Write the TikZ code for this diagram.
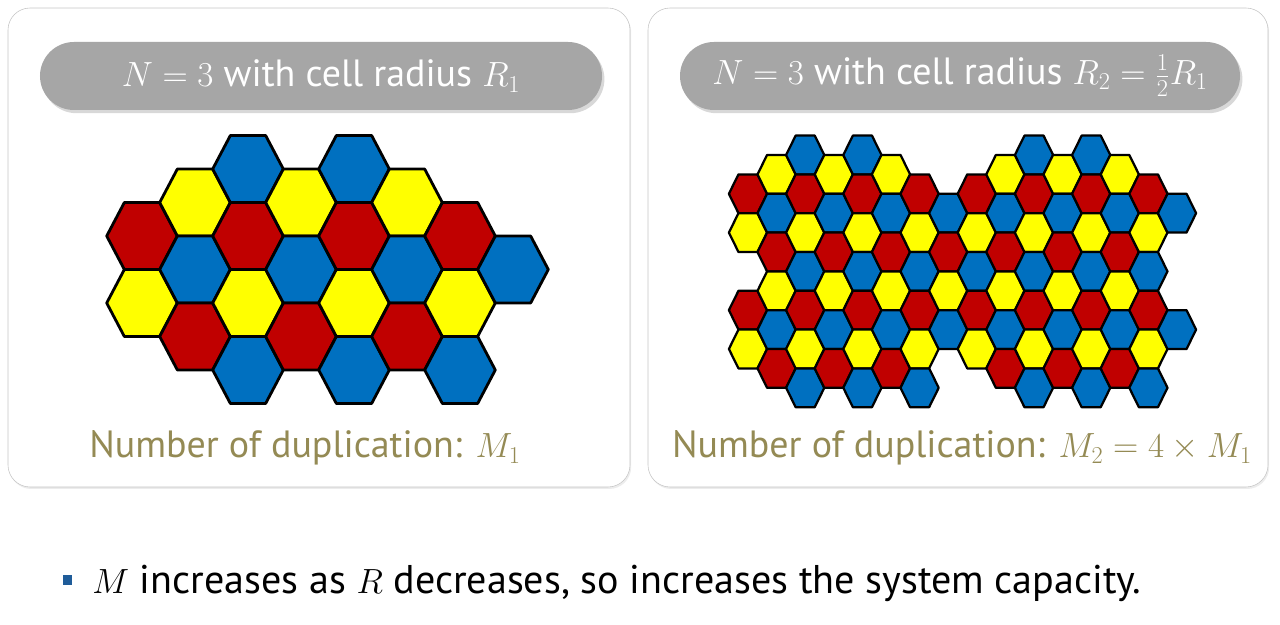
\documentclass[tikz,border=0pt]{standalone}
\usepackage{fontspec}
\setmainfont{PT Sans}
\usetikzlibrary{shadows}

\definecolor{cellblue}{HTML}{0070C0}
\definecolor{cellred}{HTML}{C00000}
\definecolor{cellyellow}{HTML}{FFFF00}
\colorlet{cellc0}{cellblue}
\colorlet{cellc1}{cellred}
\colorlet{cellc2}{cellyellow}
\definecolor{pillgray}{HTML}{A6A6A6}
\definecolor{olivetext}{HTML}{948A54}
\definecolor{bulletblue}{HTML}{1F5C99}

% one hexagonal cell: centre x, centre y, half width, half height, colour index
\newcommand{\hexcell}[5]{%
  \draw[cell, fill=cellc#5, shift={(#1,#2)}]
    (-#3,0) -- (-#3/2,-#4) -- (#3/2,-#4) -- (#3,0) -- (#3/2,#4) -- (-#3/2,#4) -- cycle;}

\begin{document}
\begin{tikzpicture}[
    x=0.25mm, y=-0.25mm,
    every node/.style={inner sep=0pt},
    panel/.style={draw=gray!45, fill=white, rounded corners=5.5mm,
                  drop shadow={shadow xshift=0.3mm, shadow yshift=-0.5mm, opacity=0.15}},
    pill/.style ={fill=pillgray, rounded corners=8.5mm, minimum height=17mm,
                  drop shadow={shadow xshift=0.6mm, shadow yshift=-0.8mm, opacity=0.3},
                  text=white, font=\fontsize{27}{30}\selectfont},
    cell/.style ={draw=black, line join=round, line width=2pt},
    count/.style={text=olivetext, font=\fontsize{27}{32}\selectfont, anchor=base},
    note/.style ={font=\fontsize{28.5}{32}\selectfont, anchor=base west}
]
\useasboundingbox (0,0) rectangle (1280,625);

% panels
\draw[panel] (8,8) rectangle (630,487);
\draw[panel] (648,8) rectangle (1268,487);

% titles
\node[pill, minimum width=140.5mm] (lefttitle)  at (321,76) {$N=3$ with cell radius $R_1$};
\node[pill, minimum width=140mm]   (righttitle) at (960,76) {$N=3$ with cell radius $R_2=\frac{1}{2}R_1$};

% cells of radius R1
\foreach \k/\hs in {0/{2,4},1/{1,3,5},2/{0,2,4,6},3/{1,3,5},
                    4/{0,2,4,6},5/{1,3,5},6/{2,4,6},7/{3}}
  \foreach \h in \hs {
    \pgfmathtruncatemacro{\c}{mod(2*\h,3)}
    \hexcell{142+53*\k}{169+33.5*\h}{35.3}{33.5}{\c}
  }

% cells of radius R2
\tikzset{cell/.style={draw=black, line join=round, line width=1.6pt}}
\foreach \k/\hs in {0/{2,4,8,10},1/{1,3,5,7,9,11},2/{0,2,4,6,8,10,12},
                    3/{1,3,5,7,9,11},4/{0,2,4,6,8,10,12},5/{1,3,5,7,9,11},
                    6/{2,4,6,8,10,12},7/{3,5,7,9},8/{2,4,6,8,10},
                    9/{1,3,5,7,9,11},10/{0,2,4,6,8,10,12},11/{1,3,5,7,9,11},
                    12/{0,2,4,6,8,10,12},13/{1,3,5,7,9,11},14/{2,4,6,8,10,12},
                    15/{3,9}}
  \foreach \h in \hs {
    \pgfmathtruncatemacro{\c}{mod(2*\h,3)}
    \hexcell{748+28.6*\k}{155+19.4*\h}{19.1}{19.4}{\c}
  }

% duplication counts
\node[count] (leftcount)  at (305,458) {Number of duplication: $M_1$};
\node[count] (rightcount) at (962,458) {Number of duplication: $M_2=4\times M_1$};

% remark
\node[fill=bulletblue, minimum size=2.4mm] (bullet) at (67.5,580) {};
\node[note] (remark) at (92,594) {$M$ increases as $R$ decreases, so increases the system capacity.};
\end{tikzpicture}
\end{document}
